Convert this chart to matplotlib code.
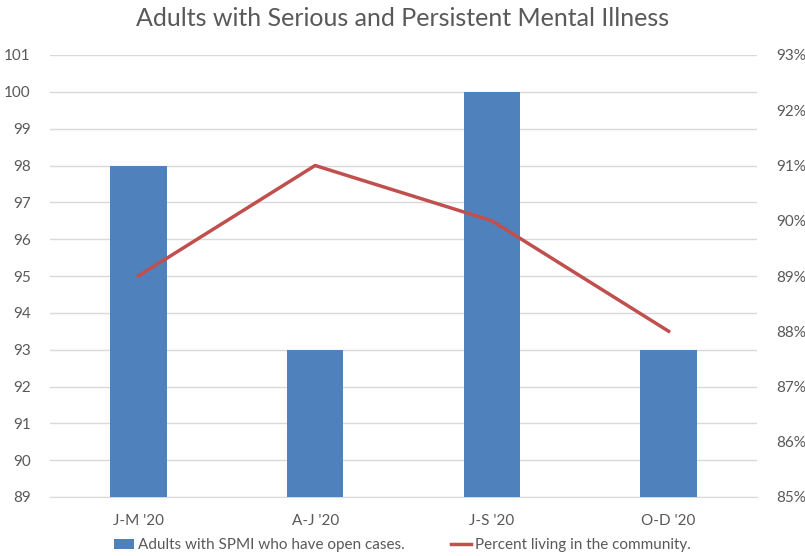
import matplotlib
matplotlib.use("Agg")
import matplotlib.pyplot as plt
from matplotlib.ticker import FuncFormatter, MultipleLocator

categories = ["J-M '20", "A-J '20", "J-S '20", "O-D '20"]
open_cases = [98, 93, 100, 93]
pct_community = [89, 91, 90, 88]

plt.rcParams["font.family"] = ["Lato", "DejaVu Sans"]
text_color = "#595959"
grid_color = "#d9d9d9"

fig = plt.figure(figsize=(8.05, 5.56), dpi=100)
ax = fig.add_axes([50 / 805, 59 / 556, 707 / 805, 442 / 556])
x = list(range(len(categories)))

ax.bar(x, open_cases, width=0.32, color="#4f81bd", zorder=3,
       label="Adults with SPMI who have open cases.")
ax.set_ylim(89, 101)
ax.set_xlim(-0.5, len(categories) - 0.5)
ax.yaxis.set_major_locator(MultipleLocator(1))
ax.grid(axis="y", color=grid_color, linewidth=1, zorder=0)
ax.set_axisbelow(True)
ax.set_xticks(x)
ax.set_xticklabels(categories)

ax2 = ax.twinx()
ax2.plot(x, pct_community, color="#c0504d", linewidth=2.5, zorder=4,
         label="Percent living in the community.")
ax2.set_ylim(85, 93)
ax2.yaxis.set_major_locator(MultipleLocator(1))
ax2.yaxis.set_major_formatter(FuncFormatter(lambda v, p: f"{int(v)}%"))
ax2.grid(False)

for a in (ax, ax2):
    for s in a.spines.values():
        s.set_visible(False)
    a.tick_params(length=0, labelsize=11, colors=text_color)
ax.spines["bottom"].set_visible(True)
ax.spines["bottom"].set_color(grid_color)
ax.tick_params(axis="y", pad=14)
ax2.tick_params(axis="y", pad=14)
ax.tick_params(axis="x", pad=12)

fig.suptitle("Adults with Serious and Persistent Mental Illness",
             y=0.988, fontsize=18, color=text_color)

h1, l1 = ax.get_legend_handles_labels()
h2, l2 = ax2.get_legend_handles_labels()
fig.legend(h1 + h2, l1 + l2, loc="lower center", bbox_to_anchor=(0.5, -0.018),
           ncol=2, frameon=False, fontsize=11, labelcolor=text_color,
           handlelength=1.3, handletextpad=0.3, columnspacing=3)

fig.savefig("out.png", dpi=100)
